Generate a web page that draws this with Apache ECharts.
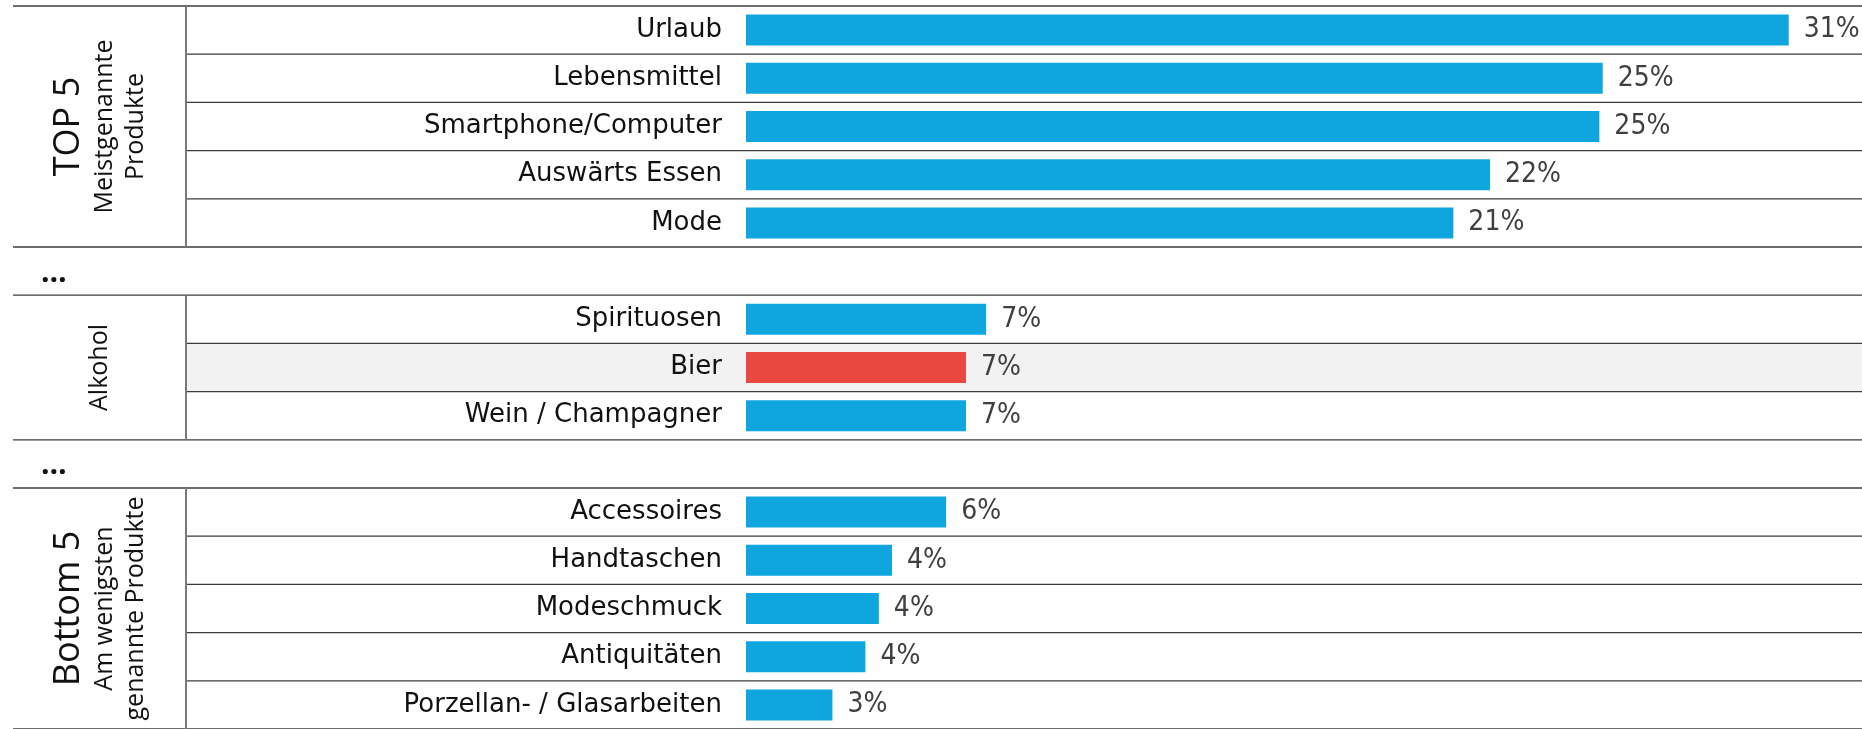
<!DOCTYPE html>
<html>
<head>
<meta charset="utf-8">
<script src="https://cdn.jsdelivr.net/npm/echarts@6/dist/echarts.min.js"></script>
<style>
html,body{margin:0;padding:0;background:#fff;}
#main{width:1862px;height:729px;}
</style>
</head>
<body>
<div id="main"></div>
<script>
// rows, top to bottom ('' = "…" gap row)
var products = ['Urlaub','Lebensmittel','Smartphone/Computer','Auswärts Essen','Mode','',
    'Spirituosen','Bier','Wein / Champagner','',
    'Accessoires','Handtaschen','Modeschmuck','Antiquitäten','Porzellan- / Glasarbeiten'];
var shares = [31.0, 25.47, 25.37, 22.12, 21.03, null,
    7.14, 6.54, 6.54, null,
    5.95, 4.34, 3.95, 3.55, 2.57];
var gapRows = [5, 9];
var highlightRow = 7;

// groups on the left
var groupStart = [0, 6, 10];
var groupEnd = [4, 8, 14];
var groupTitle = ['TOP 5', '', 'Bottom 5'];
var groupSub = [['Meistgenannte', 'Produkte'], ['Alkohol'], ['Am wenigsten', 'genannte Produkte']];

var BLUE = '#0fa6df', RED = '#e84840';
var ROW_TOP = 6, ROW_H = 48.5;
var DIV_X = 186;

var myChart = echarts.init(document.getElementById('main'));

function renderGroup(params, api) {
    var cs = params.coordSys;
    var i = params.dataIndex;
    var s = api.value(1), e = api.value(2);
    var band = api.size([0, 1])[1];
    var y0 = api.coord([0, s])[1] - band / 2;
    var y1 = api.coord([0, e])[1] + band / 2;
    var left = cs.x, right = cs.x + cs.width;
    var children = [];
    var lineStyle = {stroke: '#3c3c3c', lineWidth: 1.3};

    if (highlightRow >= s && highlightRow <= e) {
        var yc = api.coord([0, highlightRow])[1];
        children.push({type: 'rect', shape: {x: DIV_X, y: yc - band / 2, width: right - DIV_X, height: band},
            style: {fill: '#f2f2f2'}});
    }
    for (var k = s + 1; k <= e; k++) {
        var yk = api.coord([0, k])[1] - band / 2;
        children.push({type: 'line', shape: {x1: DIV_X, y1: yk, x2: right, y2: yk}, style: lineStyle});
    }
    children.push({type: 'line', shape: {x1: left, y1: y0, x2: right, y2: y0}, style: lineStyle});
    children.push({type: 'line', shape: {x1: left, y1: y1, x2: right, y2: y1}, style: lineStyle});
    children.push({type: 'line', shape: {x1: DIV_X, y1: y0, x2: DIV_X, y2: y1},
        style: {stroke: '#7a7a7a', lineWidth: 2}});

    var parts = [];
    if (groupTitle[i]) parts.push('{t|' + groupTitle[i] + '}');
    groupSub[i].forEach(function (l) { parts.push('{s|' + l + '}'); });
    children.push({
        type: 'text',
        x: (left + DIV_X) / 2,
        y: (y0 + y1) / 2,
        rotation: Math.PI / 2,
        style: {
            text: parts.join('\n'),
            align: 'center',
            verticalAlign: 'middle',
            rich: {
                t: {fontSize: 36, lineHeight: 42, fontFamily: 'Open Sans', fill: '#111', align: 'center'},
                s: {fontSize: 25, lineHeight: 31, fontFamily: 'Open Sans', fill: '#111', align: 'center'}
            }
        }
    });
    return {type: 'group', children: children};
}

function renderGap(params, api) {
    var cs = params.coordSys;
    var p = api.coord([0, api.value(1)]);
    return {
        type: 'text',
        x: cs.x + 28,
        y: p[1] + 2,
        style: {text: '…', fontSize: 30, fontWeight: 'bold', fontFamily: 'Open Sans', fill: '#111',
            align: 'left', verticalAlign: 'middle'}
    };
}

var option = {
    animation: false,
    grid: [
        {left: 746, right: 6, top: ROW_TOP, height: ROW_H * products.length, containLabel: false},
        {left: 13, right: 0, top: ROW_TOP, height: ROW_H * products.length, containLabel: false}
    ],
    xAxis: [
        {type: 'value', gridIndex: 0, min: 0, max: 33, show: false},
        {type: 'value', gridIndex: 1, min: 0, max: 1, show: false}
    ],
    yAxis: [
        {
            type: 'category', gridIndex: 0, inverse: true, data: products, z: 5,
            axisLine: {show: false}, axisTick: {show: false}, splitLine: {show: false},
            axisLabel: {interval: 0, fontSize: 26, color: '#111', fontFamily: 'DejaVu Sans', margin: 24}
        },
        {type: 'category', gridIndex: 1, inverse: true, data: products, show: false}
    ],
    series: [
        {
            type: 'custom', xAxisIndex: 1, yAxisIndex: 1, z: 1,
            encode: {x: 0, y: 1},
            data: groupStart.map(function (s, i) { return [0, s, groupEnd[i]]; }),
            renderItem: renderGroup
        },
        {
            type: 'custom', xAxisIndex: 1, yAxisIndex: 1, z: 1,
            encode: {x: 0, y: 1},
            data: gapRows.map(function (r) { return [0, r]; }),
            renderItem: renderGap
        },
        {
            type: 'bar', xAxisIndex: 0, yAxisIndex: 0, z: 3,
            barWidth: 31,
            data: shares.map(function (v, i) {
                return {value: v, itemStyle: {color: i === highlightRow ? RED : BLUE}};
            }),
            label: {
                show: true, position: 'right', distance: 15,
                fontSize: 28, color: '#404040',
                fontFamily: '"Liberation Sans Narrow", "DejaVu Sans Condensed", sans-serif',
                formatter: function (p) { return p.value == null ? '' : Math.round(p.value) + '%'; }
            }
        }
    ]
};
myChart.setOption(option);
</script>
</body>
</html>
